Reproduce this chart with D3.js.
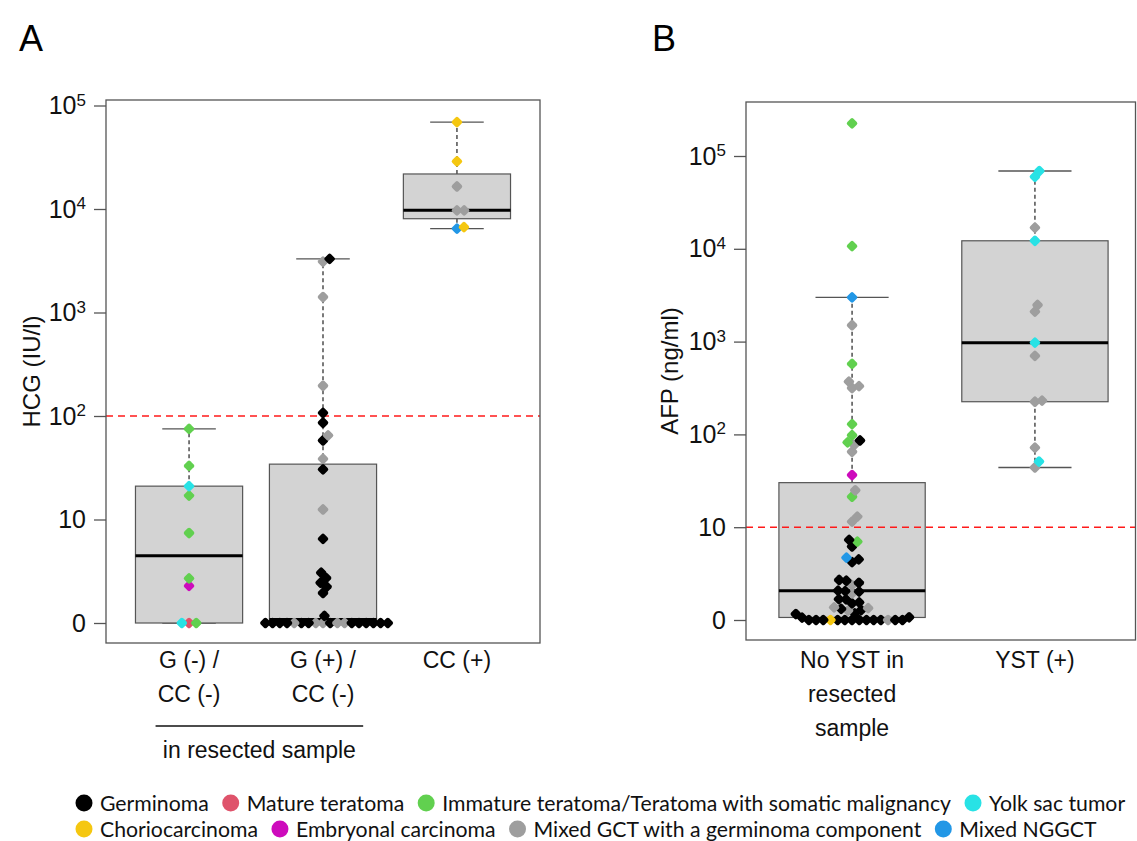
<!DOCTYPE html>
<html><head><meta charset="utf-8">
<script src="https://cdn.jsdelivr.net/npm/d3@7"></script>
<style>body{margin:0;background:#fff} svg{display:block}</style>
</head><body><svg id="c" width="1137" height="841"></svg>
<script>
// ---------- DATA ----------
const typeKeys   = ["G","MT","IT","YST","CC","EC","MG","MN"];
const typeLabels = ["Germinoma","Mature teratoma","Immature teratoma/Teratoma with somatic malignancy","Yolk sac tumor",
                    "Choriocarcinoma","Embryonal carcinoma","Mixed GCT with a germinoma component","Mixed NGGCT"];
const typeColors = ["#000000","#DF536B","#61D04F","#28E2E5","#F5C710","#CD0BBC","#9E9E9E","#2297E6"];

const yTickValues = [0, 10, 100, 1000, 10000, 100000];
const yTickExp    = ["0", "10", "2", "3", "4", "5"];

// Panel A : HCG (IU/l)
const hcgCategories = [["G (-) /","CC (-)"],["G (+) /","CC (-)"],["CC (+)"]];
const hcgG1Values = [0,0,0,1.28,1.7,6.4,16,20,32,74];
const hcgG1Types  = ["MT","IT","YST","EC","IT","IT","IT","YST","IT","IT"];
const hcgG2Values = [0,0,0,0,0,0,0,0,0,0,0,0,0,0,0,0,0,0,
                     0.17,0.95,1.24,1.45,1.72,2.06,5.5,11.5,29.5,37.5,57,64,85,106,195,1410,3100,3300];
const hcgG2Types  = ["MG","G","MG","MG","G","MG","G","G","MG","G","G","G","G","G","G","G","G","G",
                     "G","G","G","G","G","G","G","MG","G","MG","G","MG","G","G","MG","MG","MG","G"];
const hcgG3Values = [6450,6690,9700,9700,16500,28800,69000];
const hcgG3Types  = ["MN","CC","MG","MG","MG","CC","CC"];
const hcgCutoff = 100;

// Panel B : AFP (ng/ml)
const afpCategories = [["No YST in","resected","sample"],["YST (+)"]];
const afpG1Values = [0,0,0,0,0,0,0,0,0,0,0,0,0,0,
                     0.06,0.07,0.16,0.18,0.26,0.28,0.32,0.34,
                     0.37,0.51,0.55,0.67,0.68,0.94,1.02,1.05,1.07,1.38,
                     1.52,1.65,1.70,3.2,3.5,3.7,5.2,6.0,6.3,10.5,
                     12,20.3,24,35.5,64,76,81,85,97,128,
                     315,330,370,574,1500,3000,10700,225000];
const afpG1Types  = ["G","G","G","G","G","G","CC","G","G","MG","G","G","G","G",
                     "G","G","G","G","MG","G","G","MG",
                     "MG","G","G","G","G","MG","G","G","G","MG",
                     "G","G","G","G","G","MN","G","IT","G","MG",
                     "MG","IT","MG","EC","MG","MG","IT","G","IT","IT",
                     "MG","MG","MG","IT","MG","MN","IT","IT"];
const afpG2Values = [43,50,71,224,230,700,973,2100,2480,12200,16900,59800,68900];
const afpG2Types  = ["MG","YST","MG","MG","MG","MG","YST","MG","MG","YST","MG","YST","YST"];
const afpCutoff = 10;

// ---------- HELPERS ----------
const svg = d3.select("#c");
const colorOf = d3.scaleOrdinal().domain(typeKeys).range(typeColors);
const tr = v => Math.log10(v + 1);
const FONT = "'Liberation Sans', Arial, sans-serif";

function fivenum(arr){
  const x = arr.slice().sort((a,b)=>a-b), n = x.length;
  const n4 = Math.floor((n+3)/2)/2;
  return [1, n4, (n+1)/2, n+1-n4, n].map(i => 0.5*(x[Math.floor(i)-1] + x[Math.ceil(i)-1]));
}
function boxStats(values){
  const t = values.map(tr);
  const f = fivenum(t), iqr = f[3]-f[1];
  const lo = d3.min(t.filter(v => v >= f[1]-1.5*iqr));
  const hi = d3.max(t.filter(v => v <= f[3]+1.5*iqr));
  return {q1:f[1], med:f[2], q3:f[3], lo, hi};
}
function swarm(pts, d){
  const order = pts.map((p,i)=>i).sort((a,b)=> pts[a].v - pts[b].v || a-b);
  const placed = [];
  order.forEach(i => {
    const p = pts[i];
    const near = placed.filter(q => Math.abs(q.py - p.py) < d);
    const cands = [0];
    near.forEach(q => { const w = Math.sqrt(d*d - (q.py-p.py)**2); cands.push(q.dx + w, q.dx - w); });
    const ok = cands.filter(c => near.every(q => Math.abs(c - q.dx) >= Math.sqrt(d*d - (q.py-p.py)**2) - 1e-6));
    ok.sort((a,b)=> Math.abs(a)-Math.abs(b) || b-a);
    p.dx = ok[0];
    placed.push(p);
  });
  return order.map(i => pts[i]);
}

function panel(cfg){
  const g = svg.append("g");
  const x = d3.scaleLinear().domain([0.5-0.04*cfg.n, cfg.n+0.5+0.04*cfg.n]).range([cfg.left, cfg.xRight]);
  const y = d3.scaleLinear().domain([0,5]).range([cfg.y0, cfg.y5]);
  const bw = 0.8;

  cfg.groups.forEach((grp, gi) => {
    const c = gi + 1, s = boxStats(grp.values);
    const xl = x(c - bw/2), xr = x(c + bw/2), cl = x(c - bw/4), cr = x(c + bw/4);
    g.append("line").attr("x1",x(c)).attr("x2",x(c)).attr("y1",y(s.q3)).attr("y2",y(s.hi))
      .attr("stroke","#333").attr("stroke-width",1.3).attr("stroke-dasharray","4,3");
    g.append("line").attr("x1",x(c)).attr("x2",x(c)).attr("y1",y(s.q1)).attr("y2",y(s.lo))
      .attr("stroke","#333").attr("stroke-width",1.3).attr("stroke-dasharray","4,3");
    [s.hi, s.lo].forEach(w => g.append("line").attr("x1",cl).attr("x2",cr).attr("y1",y(w)).attr("y2",y(w))
      .attr("stroke","#555").attr("stroke-width",1.3));
    g.append("rect").attr("x",xl).attr("y",y(s.q3)).attr("width",xr-xl).attr("height",y(s.q1)-y(s.q3))
      .attr("fill","#D3D3D3").attr("stroke","#555").attr("stroke-width",1.2);
    g.append("line").attr("x1",xl).attr("x2",xr).attr("y1",y(s.med)).attr("y2",y(s.med))
      .attr("stroke","#000").attr("stroke-width",3);
  });

  // cutoff line
  const cy = y(Math.log10(cfg.cutoff));
  g.append("line").attr("x1",cfg.left).attr("x2",cfg.frameRight).attr("y1",cy).attr("y2",cy)
    .attr("stroke","#ff1a1a").attr("stroke-width",1.4).attr("stroke-dasharray","7,5");

  // points (beeswarm)
  cfg.groups.forEach((grp, gi) => {
    const c = gi + 1;
    const pts = grp.values.map((v,i) => ({v, t:grp.types[i], py:y(tr(v))}));
    const placed = swarm(pts, 7.2);
    g.selectAll(null).data(placed).enter().append("rect")
      .attr("x",-4.3).attr("y",-4.3).attr("width",8.6).attr("height",8.6).attr("rx",2)
      .attr("fill", d => colorOf(d.t))
      .attr("transform", d => `translate(${x(c)+d.dx},${d.py}) rotate(45)`);
  });

  // frame
  g.append("rect").attr("x",cfg.left).attr("y",cfg.top).attr("width",cfg.frameRight-cfg.left).attr("height",cfg.bottom-cfg.top)
    .attr("fill","none").attr("stroke","#555").attr("stroke-width",1.3);

  // y axis
  const ax = g.append("g").attr("transform",`translate(${cfg.left},0)`)
    .call(d3.axisLeft(y).tickValues(yTickValues.map(v => v===0?0:Math.log10(v))).tickSize(12).tickPadding(8).tickFormat(""));
  ax.select(".domain").remove();
  ax.selectAll(".tick line").attr("stroke","#555").attr("stroke-width",1.3);
  ax.selectAll(".tick text").each(function(d,i){
    const t = d3.select(this).attr("font-family",FONT).attr("font-size",25).attr("fill","#111");
    if (i < 2) t.text(yTickExp[i]);
    else { t.append("tspan").text("10"); t.append("tspan").attr("dy","-0.5em").attr("font-size",17).text(yTickExp[i]); }
  });

  g.append("text").attr("transform",`translate(${cfg.titleX},${(cfg.top+cfg.bottom)/2}) rotate(-90)`)
    .attr("text-anchor","middle").attr("dominant-baseline","central")
    .attr("font-family",FONT).attr("font-size",24).attr("fill","#111").text(cfg.title);

  cfg.categories.forEach((lines, gi) => {
    lines.forEach((ln, li) => g.append("text").attr("x", x(gi+1)).attr("y", 660 + li*34)
      .attr("text-anchor","middle").attr("dominant-baseline","central")
      .attr("font-family",FONT).attr("font-size",23).attr("fill","#111").text(ln));
  });

  g.append("text").attr("x",cfg.letterX).attr("y",38).attr("dominant-baseline","central")
    .attr("font-family",FONT).attr("font-size",36).attr("fill","#000").text(cfg.letter);
  return {x, y, g};
}

const A = panel({
  n:3, left:106, xRight:540, frameRight:540, top:100, bottom:643, y0:623, y5:105.5,
  cutoff:hcgCutoff, title:"HCG (IU/l)", titleX:31, letter:"A", letterX:19,
  categories:hcgCategories,
  groups:[{values:hcgG1Values,types:hcgG1Types},{values:hcgG2Values,types:hcgG2Types},{values:hcgG3Values,types:hcgG3Types}]
});
A.g.append("line").attr("x1",A.x(0.75)).attr("x2",A.x(2.3)).attr("y1",726).attr("y2",726).attr("stroke","#111").attr("stroke-width",1.5);
A.g.append("text").attr("x",(A.x(0.75)+A.x(2.3))/2).attr("y",750).attr("text-anchor","middle").attr("dominant-baseline","central")
  .attr("font-family",FONT).attr("font-size",23).attr("fill","#111").text("in resected sample");

panel({
  n:2, left:746, xRight:1141, frameRight:1135.5, top:102, bottom:640, y0:620, y5:156,
  cutoff:afpCutoff, title:"AFP (ng/ml)", titleX:669, letter:"B", letterX:652,
  categories:afpCategories,
  groups:[{values:afpG1Values,types:afpG1Types},{values:afpG2Values,types:afpG2Types}]
});

// ---------- LEGEND ----------
const lg = svg.append("g");
const rows = [[0,1,2,3],[4,5,6,7]];
const legFont = "Lato, 'Open Sans', sans-serif";
function measure(fs){
  const t = lg.append("text").attr("font-family",legFont).attr("font-size",fs);
  const w = typeLabels.map(s => { t.text(s); return t.node().getComputedTextLength(); });
  t.remove(); return w;
}
let fs = 20, widths = measure(fs);
const target = 1126 - 75 - 4*25 - 3*13;
fs = fs * target / d3.sum(rows[0].map(i => widths[i]));
widths = measure(fs);
rows.forEach((r, ri) => {
  let x0 = 75; const cy = 803 + ri*26;
  r.forEach(i => {
    lg.append("circle").attr("cx",x0+9).attr("cy",cy).attr("r",8.5).attr("fill",typeColors[i]);
    lg.append("text").attr("x",x0+25).attr("y",cy).attr("dominant-baseline","central")
      .attr("font-family",legFont).attr("font-size",fs).attr("fill","#111").text(typeLabels[i]);
    x0 += 25 + widths[i] + 13;
  });
});
</script></body></html>
